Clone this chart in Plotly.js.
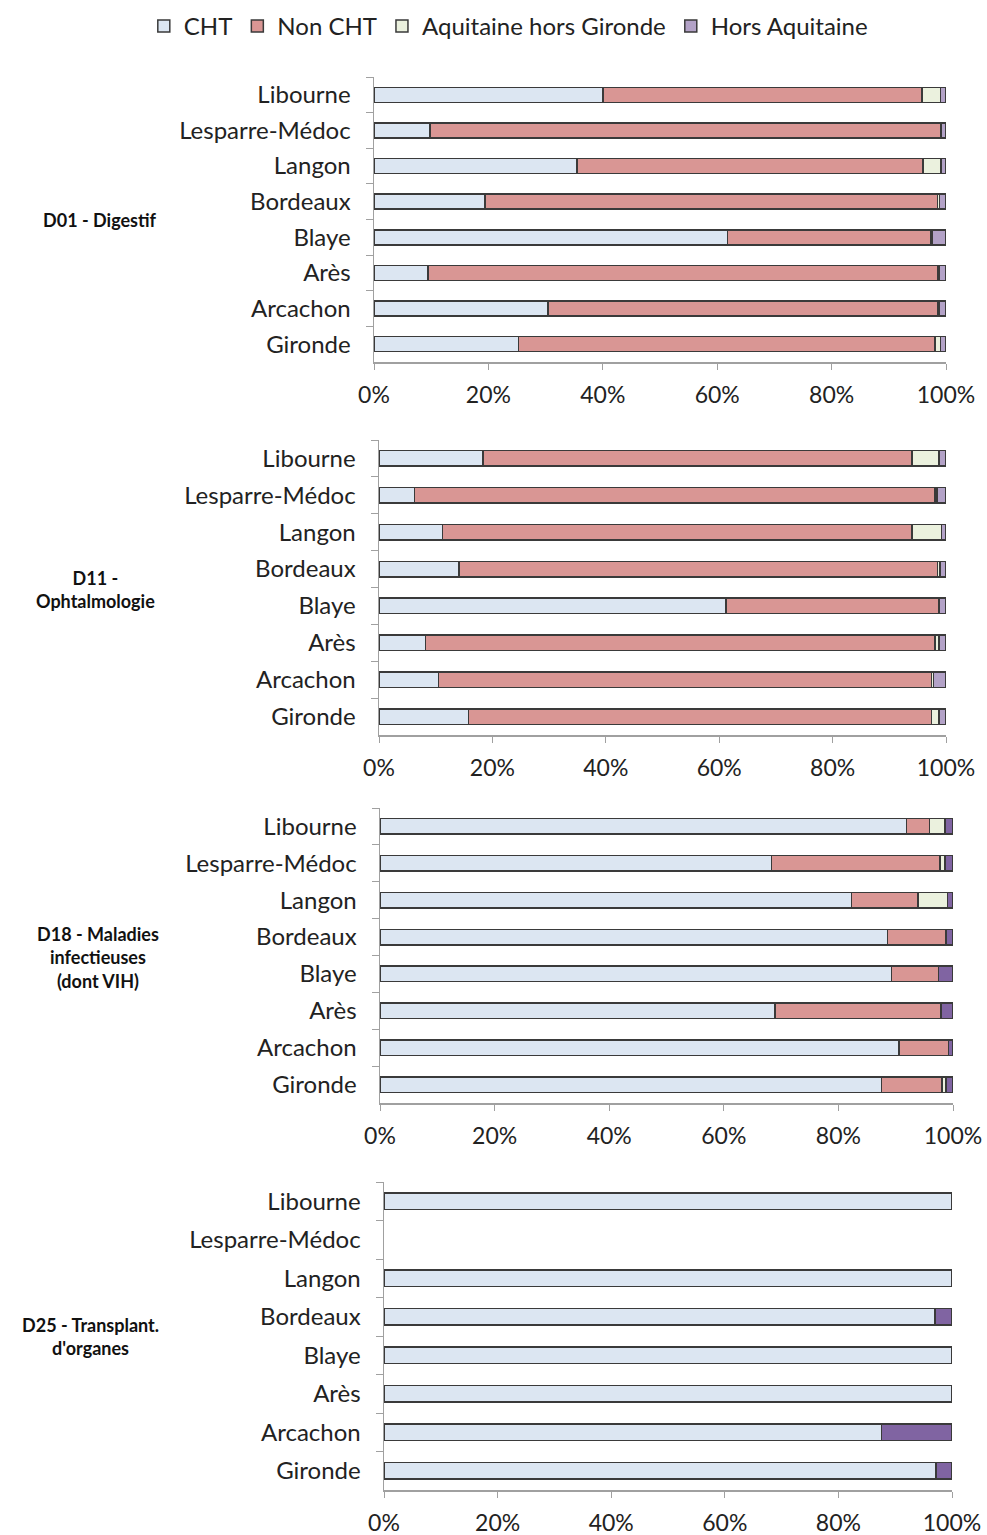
<!DOCTYPE html>
<html>
<head>
<meta charset="utf-8">
<script src="https://cdn.plot.ly/plotly-3.0.1.min.js"></script>
<style>body{margin:0;padding:0;background:#fff}#chart{width:987px;height:1535px}</style>
</head>
<body>
<div id="chart"></div>
<script>
const cities = ["Libourne","Lesparre-Médoc","Langon","Bordeaux","Blaye","Arès","Arcachon","Gironde"];
const groups = ["D01 - Digestif","D11 -<br>Ophtalmologie","D18 - Maladies<br>infectieuses<br>(dont VIH)","D25 - Transplant.<br>d'organes"];
const seriesNames = ["CHT","Non CHT","Aquitaine hors Gironde","Hors Aquitaine"];
const tickVals = [0,20,40,60,80,100];
const tickText = ["0%","20%","40%","60%","80%","100%"];

const d01_cht  = [40.0, 9.8, 35.5, 19.4, 61.8, 9.4, 30.4, 25.3];
const d01_non  = [55.8, 89.2, 60.5, 79.1, 35.6, 89.1, 68.1, 72.8];
const d01_aq   = [3.2, 0.2, 3.1, 0.4, 0.2, 0.3, 0.3, 0.9];
const d01_hors = [1.0, 0.8, 0.9, 1.1, 2.4, 1.2, 1.2, 1.0];

const d11_cht  = [18.3, 6.3, 11.2, 14.1, 61.2, 8.2, 10.5, 15.8];
const d11_non  = [75.7, 91.8, 82.8, 84.4, 37.6, 89.9, 86.9, 81.6];
const d11_aq   = [4.8, 0.3, 5.2, 0.4, 0, 0.7, 0.4, 1.4];
const d11_hors = [1.2, 1.6, 0.8, 1.1, 1.2, 1.2, 2.2, 1.2];

const d18_cht  = [91.9, 68.3, 82.3, 88.6, 89.3, 68.9, 90.6, 87.5];
const d18_non  = [4.0, 29.4, 11.6, 10.2, 8.2, 29.0, 8.6, 10.6];
const d18_aq   = [2.7, 0.9, 5.1, 0, 0, 0, 0, 0.7];
const d18_hors = [1.4, 1.4, 1.0, 1.2, 2.5, 2.1, 0.8, 1.2];

const d25_cht  = [100, null, 100, 97.0, 100, 100, 87.6, 97.2];
const d25_non  = [null, null, null, null, null, null, null, null];
const d25_aq   = [null, null, null, null, null, null, null, null];
const d25_hors = [null, null, null, 3.0, null, null, 12.4, 2.8];

const panels = [
  [d01_cht, d01_non, d01_aq, d01_hors],
  [d11_cht, d11_non, d11_aq, d11_hors],
  [d18_cht, d18_non, d18_aq, d18_hors],
  [d25_cht, d25_non, d25_aq, d25_hors]
];
const colorsLight = ["#DCE6F2","#D99694","#EBF1DE","#B3A2C7"];
const colorsDark  = ["#DCE6F2","#D99694","#EBF1DE","#8064A2"];

// layout geometry (pixels)
const W = 987, H = 1535;
const pix = [
  {x0:374, x1:946, y0:77,  y1:362, lx:100, ly:220},
  {x0:379, x1:946, y0:440, y1:735, lx:95,  ly:590},
  {x0:380, x1:953, y0:808, y1:1103, lx:98, ly:957},
  {x0:384, x1:952, y0:1182, y1:1490, lx:90, ly:1336}
];

const traces = [];
const layout = {
  width: W, height: H,
  margin: {l:0, r:0, t:0, b:0},
  paper_bgcolor: "#fff", plot_bgcolor: "#fff",
  barmode: "stack",
  bargap: 0.58,
  font: {family: "Lato, 'Open Sans', sans-serif", size: 22, color: "#222"},
  showlegend: true,
  legend: {orientation: "h", x: 0.515, xanchor: "center", y: 1 - 4/H, yanchor: "top",
           font: {size: 24, color: "#222"}, traceorder: "normal", itemwidth: 30},
  annotations: []
};

panels.forEach((vals, p) => {
  const g = pix[p];
  const xa = p === 0 ? "x" : "x" + (p + 1);
  const ya = p === 0 ? "y" : "y" + (p + 1);
  const cols = p < 2 ? colorsLight : colorsDark;
  vals.forEach((arr, s) => {
    traces.push({
      type: "bar", orientation: "h",
      x: arr, y: cities,
      name: seriesNames[s],
      legendgroup: seriesNames[s],
      showlegend: p === 0,
      xaxis: xa, yaxis: ya,
      cliponaxis: false,
      marker: {color: cols[s], line: {color: "#3a3a3a", width: 1.5}},
      hoverinfo: "x+y+name"
    });
  });
  const xkey = p === 0 ? "xaxis" : "xaxis" + (p + 1);
  const ykey = p === 0 ? "yaxis" : "yaxis" + (p + 1);
  layout[xkey] = {
    domain: [g.x0 / W, g.x1 / W],
    anchor: ya,
    range: [0, 100],
    tickmode: "array", tickvals: tickVals, ticktext: tickText,
    ticks: "outside", ticklen: 6, tickcolor: "#a0a0a0",
    showline: true, linecolor: "#a0a0a0", linewidth: 1.5,
    showgrid: false, zeroline: false,
    ticklabelstandoff: 6,
    tickfont: {size: 23, color: "#222"},
    fixedrange: true
  };
  layout[ykey] = {
    domain: [1 - g.y1 / H, 1 - g.y0 / H],
    anchor: xa,
    type: "category",
    categoryorder: "array", categoryarray: cities,
    autorange: "reversed",
    tickson: "boundaries",
    ticks: "outside", ticklen: 7, tickcolor: "#a0a0a0",
    showline: true, linecolor: "#a0a0a0", linewidth: 1.5,
    showgrid: false, zeroline: false,
    ticklabelstandoff: 17,
    tickfont: {size: 24, color: "#222"},
    fixedrange: true
  };
  layout.annotations.push({
    xref: "paper", yref: "paper",
    x: g.lx / W, y: 1 - g.ly / H,
    xanchor: "center", yanchor: "middle",
    text: "<b>" + groups[p] + "</b>",
    showarrow: false, align: "center",
    font: {size: 18, color: "#111", family: "Lato, 'Open Sans', sans-serif"}
  });
});

Plotly.newPlot("chart", traces, layout, {displayModeBar: false, staticPlot: true});
</script>
</body>
</html>
